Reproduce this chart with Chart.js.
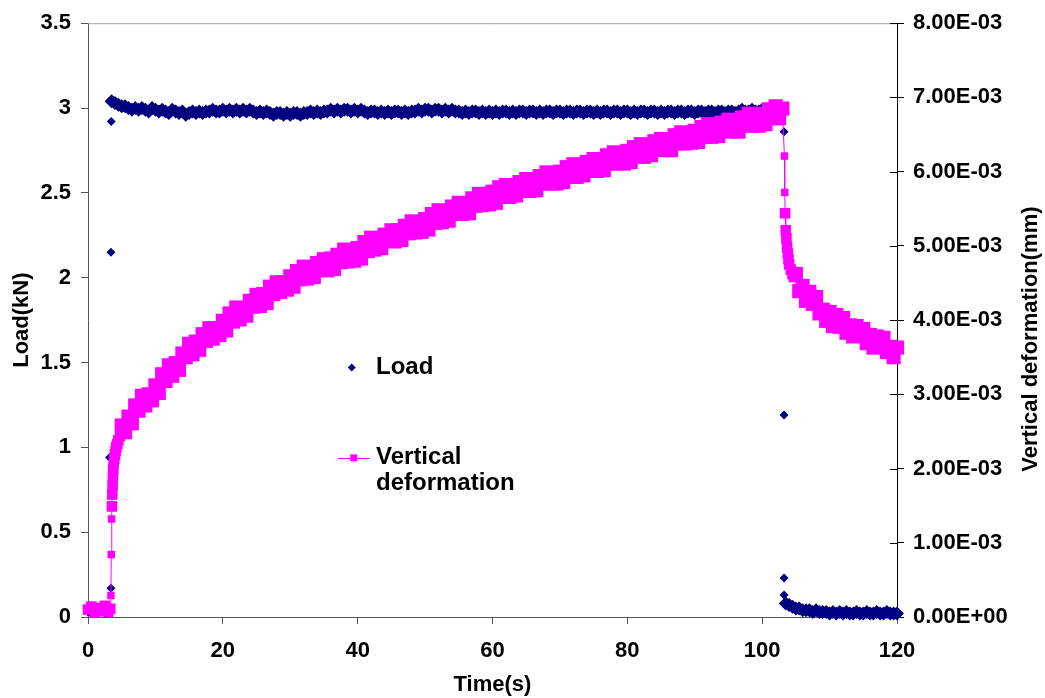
<!DOCTYPE html>
<html>
<head>
<meta charset="utf-8">
<title>Load and vertical deformation vs time</title>
<script src="https://cdn.jsdelivr.net/npm/chart.js@4.4.1/dist/chart.umd.min.js"></script>
<style>
  html, body { margin: 0; padding: 0; background: #fff; }
  #chart { display: block; }
</style>
</head>
<body>
<canvas id="chart" width="1045" height="698"></canvas>
<script>
// Creep record: load held near 3 kN for ~100 s, then released.
const SAMPLE_STEP = 0.5; // s between logger samples on the regular runs

// ---- Load (kN) ----
const loadPreTime = [0, 0.5, 1, 1.5, 2, 2.5, 3];
const loadPre = [0.03, 0.02, 0.03, 0.02, 0.03, 0.02, 0.03];
const loadRiseTime = [3.2, 3.4, 3.4, 3.45];
const loadRise = [0.94, 0.17, 2.15, 2.92];
const loadHoldStart = 3.5; // t = 3.5 .. 103.0
const loadHold = [
  3.04, 3.03, 3.02, 3.01, 3.01, 3.00, 2.99, 3.00, 2.99, 3.00,
  2.99, 2.98, 3.00, 2.99, 2.98, 2.99, 2.98, 2.97, 2.99, 2.98,
  2.97, 2.98, 2.96, 2.97, 2.98, 2.97, 2.98, 2.97, 2.98, 2.98,
  2.99, 2.98, 2.98, 2.99, 2.98, 2.99, 2.98, 2.99, 2.98, 2.99,
  2.98, 2.99, 2.98, 2.97, 2.98, 2.97, 2.98, 2.97, 2.96, 2.97,
  2.97, 2.96, 2.97, 2.96, 2.97, 2.97, 2.96, 2.97, 2.97, 2.98,
  2.97, 2.98, 2.97, 2.98, 2.98, 2.99, 2.98, 2.99, 2.98, 2.99,
  2.99, 2.98, 2.99, 2.98, 2.99, 2.98, 2.97, 2.98, 2.98, 2.97,
  2.98, 2.97, 2.98, 2.97, 2.98, 2.98, 2.97, 2.98, 2.97, 2.98,
  2.98, 2.99, 2.98, 2.99, 2.99, 2.98, 2.99, 2.99, 2.98, 2.99,
  2.98, 2.99, 2.98, 2.98, 2.97, 2.98, 2.97, 2.98, 2.98, 2.97,
  2.98, 2.97, 2.98, 2.97, 2.98, 2.97, 2.98, 2.98, 2.97, 2.98,
  2.97, 2.98, 2.98, 2.97, 2.98, 2.98, 2.97, 2.98, 2.97, 2.98,
  2.98, 2.97, 2.98, 2.98, 2.97, 2.98, 2.98, 2.97, 2.98, 2.98,
  2.97, 2.98, 2.98, 2.97, 2.98, 2.97, 2.98, 2.98, 2.97, 2.98,
  2.98, 2.97, 2.98, 2.98, 2.97, 2.98, 2.97, 2.98, 2.98, 2.97,
  2.98, 2.98, 2.97, 2.98, 2.97, 2.98, 2.98, 2.97, 2.98, 2.98,
  2.97, 2.98, 2.98, 2.97, 2.98, 2.98, 2.97, 2.98, 2.98, 2.97,
  2.98, 2.98, 2.97, 2.98, 2.98, 2.97, 2.98, 2.99, 2.98, 2.98,
  2.99, 2.98, 2.98, 2.99, 2.98, 2.99, 2.99, 2.98, 2.99, 2.99
];
const loadDropTime = [103.25, 103.25, 103.25, 103.25];
const loadDrop = [2.86, 1.19, 0.23, 0.13];
const loadTailStart = 103.5; // t = 103.5 .. 120.0
const loadTail = [
  0.08, 0.07, 0.06, 0.05, 0.05, 0.04, 0.04, 0.04, 0.03, 0.04,
  0.03, 0.03, 0.03, 0.02, 0.03, 0.02, 0.03, 0.02, 0.03, 0.02,
  0.02, 0.03, 0.02, 0.02, 0.03, 0.02, 0.02, 0.03, 0.02, 0.02,
  0.03, 0.02, 0.02, 0.02
];

// ---- Vertical deformation (µm, plotted in mm) ----
const defPreTime = [0, 0.5, 1, 1.5, 2, 2.5, 3, 3.3];
const defPre = [0.10, 0.14, 0.06, 0.12, 0.08, 0.15, 0.07, 0.11];
const defJumpTime = [3.4, 3.45, 3.5];
const defJump = [0.29, 0.84, 1.32];
const defRiseTime = [3.55, 3.6, 3.65, 3.7, 3.75, 3.8, 3.9, 4.0, 4.1, 4.2, 4.35, 4.5, 4.75];
const defRise = [1.49, 1.65, 1.78, 1.90, 1.99, 2.06, 2.13, 2.19, 2.24, 2.29, 2.33, 2.38, 2.44];
const defHoldStart = 5.0; // t = 5.0 .. 103.0
const defHold = [
  2.58, 2.49, 2.70, 2.61, 2.85, 2.78, 2.98, 2.85, 3.00, 2.92,
  3.12, 3.02, 3.27, 3.18, 3.39, 3.25, 3.42, 3.33, 3.55, 3.50,
  3.68, 3.54, 3.71, 3.60, 3.81, 3.72, 3.89, 3.75, 3.89, 3.80,
  3.99, 3.86, 4.09, 3.98, 4.17, 4.01, 4.15, 4.06, 4.26, 4.18,
  4.34, 4.19, 4.35, 4.23, 4.45, 4.35, 4.51, 4.38, 4.51, 4.41,
  4.59, 4.45, 4.66, 4.55, 4.72, 4.56, 4.70, 4.58, 4.77, 4.68,
  4.82, 4.67, 4.83, 4.69, 4.88, 4.78, 4.95, 4.79, 4.90, 4.80,
  4.97, 4.83, 5.05, 4.93, 5.11, 4.95, 5.09, 4.97, 5.15, 5.07,
  5.21, 5.06, 5.21, 5.08, 5.27, 5.17, 5.33, 5.18, 5.30, 5.19,
  5.36, 5.22, 5.43, 5.31, 5.48, 5.32, 5.46, 5.34, 5.53, 5.44,
  5.58, 5.43, 5.57, 5.44, 5.64, 5.54, 5.70, 5.55, 5.66, 5.56,
  5.73, 5.58, 5.79, 5.66, 5.82, 5.66, 5.79, 5.68, 5.86, 5.77,
  5.90, 5.74, 5.89, 5.75, 5.94, 5.84, 5.99, 5.84, 5.95, 5.84,
  6.00, 5.86, 6.06, 5.94, 6.10, 5.93, 6.07, 5.95, 6.13, 6.04,
  6.17, 6.01, 6.16, 6.02, 6.22, 6.11, 6.26, 6.11, 6.22, 6.11,
  6.28, 6.13, 6.33, 6.21, 6.37, 6.20, 6.34, 6.22, 6.41, 6.31,
  6.44, 6.29, 6.43, 6.29, 6.49, 6.38, 6.53, 6.38, 6.49, 6.39,
  6.55, 6.40, 6.60, 6.47, 6.64, 6.47, 6.60, 6.48, 6.66, 6.57,
  6.70, 6.54, 6.68, 6.54, 6.73, 6.62, 6.78, 6.62, 6.73, 6.62,
  6.78, 6.64, 6.84, 6.72, 6.88, 6.72, 6.85
];
const defDropTime = [103.3, 103.35];
const defDrop = [6.21, 5.72];
const defFallTime = [103.4, 103.5, 103.6, 103.7, 103.8, 103.9, 104.0, 104.25, 104.5, 104.75];
const defFall = [5.44, 5.21, 5.10, 4.98, 4.90, 4.82, 4.75, 4.68, 4.62, 4.58];
const defTailStart = 105.0; // t = 105.0 .. 120.0
const defTail = [
  4.62, 4.39, 4.46, 4.26, 4.38, 4.22, 4.31, 4.09, 4.14, 3.99,
  4.11, 3.92, 4.07, 3.91, 4.03, 3.83, 3.93, 3.78, 3.92, 3.79,
  3.88, 3.69, 3.80, 3.63, 3.78, 3.64, 3.76, 3.57, 3.64, 3.50,
  3.63
];

// ---- Axis tick labels ----
const timeTicks = ['0', '20', '40', '60', '80', '100', '120'];
const loadTicks = ['0', '0.5', '1', '1.5', '2', '2.5', '3', '3.5'];
const defTicks = ['0.00E+00', '1.00E-03', '2.00E-03', '3.00E-03', '4.00E-03',
                  '5.00E-03', '6.00E-03', '7.00E-03', '8.00E-03'];

const seriesLabels = [['Load'], ['Vertical', 'deformation']];

const NAVY = '#000080';
const MAGENTA = '#ff00ff';
const FAMILY = '"Liberation Sans", Arial, Helvetica, sans-serif';

// marker radii: dense logger runs overlap into a band, lone samples stay small
const LOAD_R = 7, LOAD_R_SINGLE = 4.5;
const DEF_R = 10, DEF_R_PRE = 7.5, DEF_R_SINGLE = 5.3;

// point builders: lists carry their own times, runs use the logger step
function listPoints(times, values, scale, r) {
  return values.map((v, i) => ({ x: times[i], y: v * scale, r }));
}
function runPoints(start, values, scale, r) {
  return values.map((v, i) => ({ x: start + i * SAMPLE_STEP, y: v * scale, r }));
}

const loadData = [].concat(
  listPoints(loadPreTime, loadPre, 1, LOAD_R_SINGLE),
  listPoints(loadRiseTime, loadRise, 1, LOAD_R_SINGLE),
  runPoints(loadHoldStart, loadHold, 1, LOAD_R),
  listPoints(loadDropTime, loadDrop, 1, LOAD_R_SINGLE),
  runPoints(loadTailStart, loadTail, 1, LOAD_R)
);

const UM = 0.001; // µm -> mm
const defData = [].concat(
  listPoints(defPreTime, defPre, UM, DEF_R_PRE),
  listPoints(defJumpTime, defJump, UM, DEF_R_SINGLE),
  listPoints(defRiseTime, defRise, UM, DEF_R_PRE),
  runPoints(defHoldStart, defHold, UM, DEF_R),
  listPoints(defDropTime, defDrop, UM, DEF_R_SINGLE),
  listPoints(defFallTime, defFall, UM, DEF_R_PRE),
  runPoints(defTailStart, defTail, UM, DEF_R)
);

// gray top edge, right ticks crossing the axis, right title
const framePlugin = {
  id: 'frame',
  afterDraw(chart) {
    const { ctx, chartArea: a, scales } = chart;
    ctx.save();
    ctx.lineWidth = 1;
    ctx.strokeStyle = '#a0a0a0';
    ctx.beginPath();
    ctx.moveTo(a.left, a.top + 0.5);
    ctx.lineTo(a.right, a.top + 0.5);
    ctx.stroke();

    ctx.strokeStyle = '#000';
    scales.y1.ticks.forEach(t => {
      const y = Math.round(scales.y1.getPixelForValue(t.value)) + 0.5;
      ctx.beginPath();
      ctx.moveTo(a.right - 7, y);
      ctx.lineTo(a.right, y);
      ctx.stroke();
    });

    // right axis title reads bottom-to-top like the left one
    ctx.fillStyle = '#000';
    ctx.font = 'bold 22px ' + FAMILY;
    ctx.textAlign = 'center';
    ctx.textBaseline = 'middle';
    ctx.translate(1031, a.top + 0.532 * (a.bottom - a.top));
    ctx.rotate(-Math.PI / 2);
    ctx.fillText('Vertical deformation(mm)', 0, 0);
    ctx.restore();
  }
};

// legend sitting inside the plot area
const legendPlugin = {
  id: 'plotLegend',
  afterDraw(chart) {
    const { ctx, chartArea: a } = chart;
    const w = a.right - a.left, h = a.bottom - a.top;
    const mx = a.left + 0.326 * w;
    const tx = a.left + 0.356 * w;
    const y1 = a.top + 0.580 * h;
    const y2 = a.top + 0.732 * h;
    ctx.save();
    ctx.fillStyle = NAVY;
    ctx.beginPath();
    ctx.moveTo(mx, y1 - 4);
    ctx.lineTo(mx + 4, y1);
    ctx.lineTo(mx, y1 + 4);
    ctx.lineTo(mx - 4, y1);
    ctx.closePath();
    ctx.fill();

    ctx.strokeStyle = MAGENTA;
    ctx.lineWidth = 1;
    ctx.beginPath();
    ctx.moveTo(mx - 14, Math.round(y2) + 0.5);
    ctx.lineTo(mx + 18, Math.round(y2) + 0.5);
    ctx.stroke();
    ctx.fillStyle = MAGENTA;
    ctx.fillRect(mx - 1.5, y2 - 3.5, 7, 7);

    ctx.fillStyle = '#000';
    ctx.font = 'bold 24px ' + FAMILY;
    ctx.textAlign = 'left';
    ctx.textBaseline = 'middle';
    seriesLabels[0].forEach((s, i) => ctx.fillText(s, tx, y1 + i * 26));
    seriesLabels[1].forEach((s, i) => ctx.fillText(s, tx, y2 + i * 26));
    ctx.restore();
  }
};

const tickFont = { family: FAMILY, size: 22, weight: 'bold' };
const titleFont = { family: FAMILY, size: 22, weight: 'bold' };

new Chart(document.getElementById('chart'), {
  type: 'scatter',
  data: {
    datasets: [
      {
        label: 'Load',
        data: loadData,
        yAxisID: 'y',
        order: 2,
        showLine: false,
        pointStyle: 'rectRot',
        pointRadius: loadData.map(p => p.r),
        pointBackgroundColor: NAVY,
        pointBorderWidth: 0,
        clip: false
      },
      {
        label: 'Vertical deformation',
        data: defData,
        yAxisID: 'y1',
        order: 1,
        showLine: true,
        borderColor: MAGENTA,
        borderWidth: 1,
        pointStyle: 'rect',
        pointRadius: defData.map(p => p.r),
        pointBackgroundColor: MAGENTA,
        pointBorderWidth: 0,
        clip: false
      }
    ]
  },
  options: {
    responsive: false,
    animation: false,
    events: [],
    layout: { padding: { top: 19, left: 0, right: 0, bottom: 0 } },
    plugins: {
      legend: { display: false },
      tooltip: { enabled: false }
    },
    scales: {
      x: {
        type: 'linear',
        position: 'bottom',
        min: 0,
        max: 120,
        ticks: {
          stepSize: 20,
          padding: 14,
          color: '#000',
          font: tickFont,
          maxRotation: 0,
          callback: (v, i) => timeTicks[i]
        },
        grid: { drawOnChartArea: false, tickLength: 7, tickColor: '#555' },
        border: { color: '#555', width: 1 },
        title: { display: true, text: 'Time(s)', color: '#000', font: titleFont, padding: { top: 0, bottom: 0 } },
        afterFit: s => { s.height = 81; }
      },
      y: {
        position: 'left',
        min: 0,
        max: 3.5,
        ticks: {
          stepSize: 0.5,
          padding: 10,
          color: '#000',
          font: tickFont,
          callback: (v, i) => loadTicks[i]
        },
        grid: { drawOnChartArea: false, tickLength: 7, tickColor: '#555' },
        border: { color: '#555', width: 1 },
        title: { display: true, text: 'Load(kN)', color: '#000', font: titleFont, padding: { top: 9, bottom: 0 } },
        afterFit: s => { s.width = 88; }
      },
      y1: {
        position: 'right',
        min: 0,
        max: 0.008,
        ticks: {
          stepSize: 0.001,
          padding: 9,
          color: '#000',
          font: tickFont,
          callback: (v, i) => defTicks[i]
        },
        grid: { drawOnChartArea: false, tickLength: 7, tickColor: '#000' },
        border: { color: '#000', width: 1 },
        afterFit: s => { s.width = 148; }
      }
    }
  },
  plugins: [framePlugin, legendPlugin]
});
</script>
</body>
</html>
